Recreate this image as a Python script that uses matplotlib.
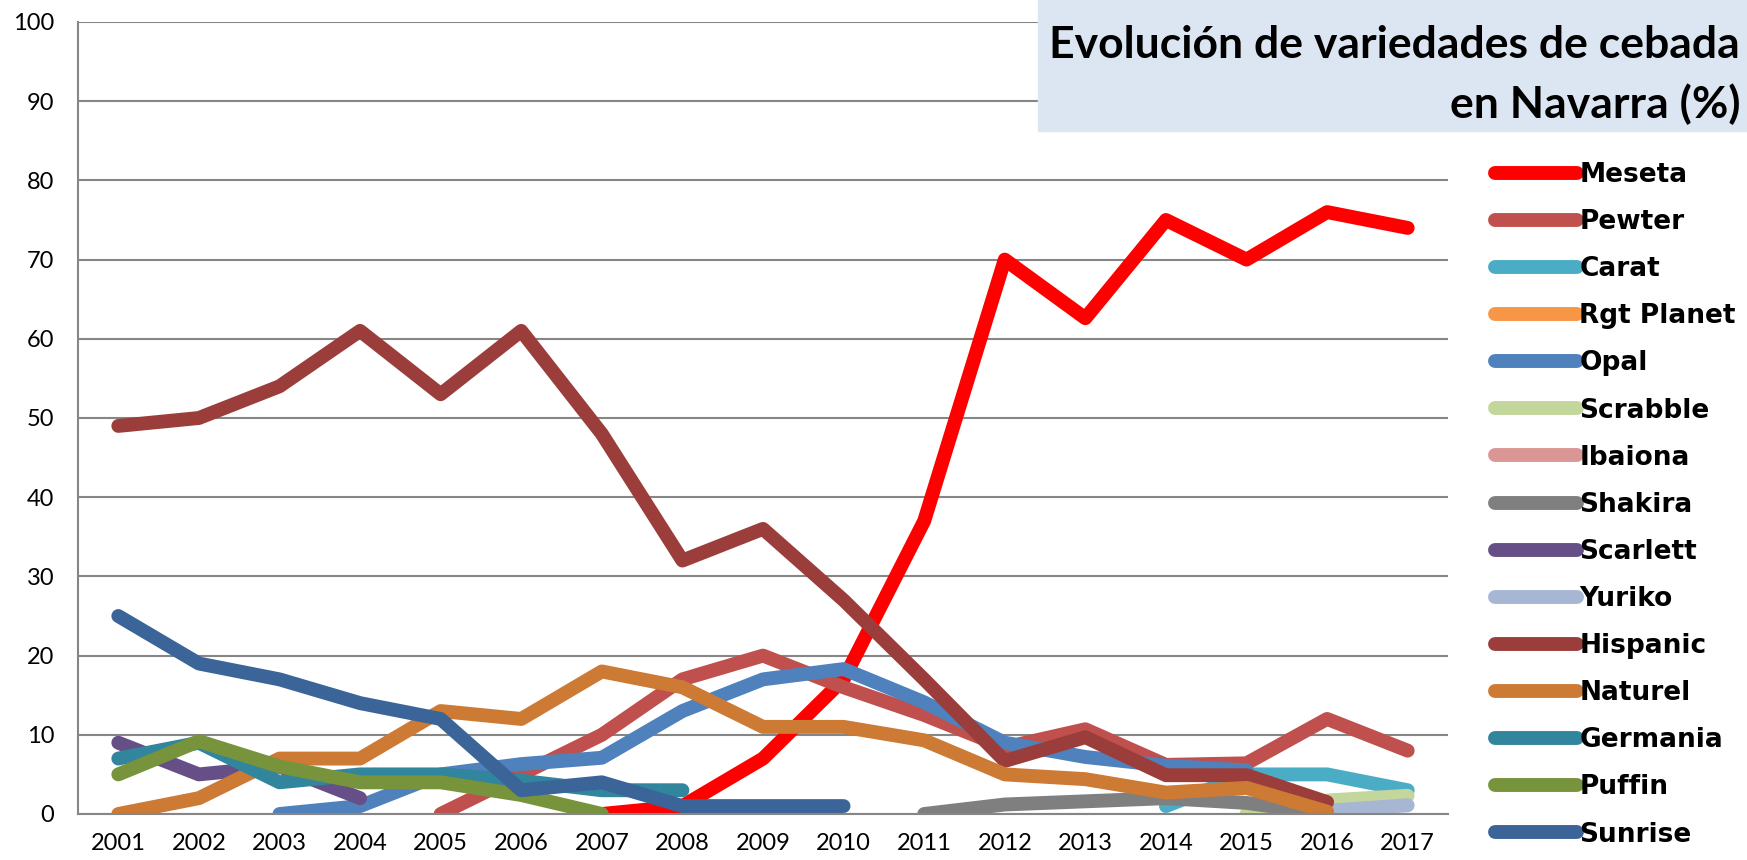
import numpy as np
import matplotlib
matplotlib.use("Agg")
import matplotlib.pyplot as plt
from matplotlib.patches import Rectangle

years = list(range(2001, 2018))

# valores (None = sin dato)
meseta = [None]*6 + [0, 1, 7, 17, 37, 70, 62.6, 75, 70, 76, 74]
pewter = [None]*4 + [0, 5, 10, 17, 20, 16, 12.5, 8.4, 10.7, 6.2, 6.4, 12, 8]
carat = [None]*13 + [1, 5, 5, 3]
rgt_planet = [None]*17
opal = [None]*2 + [0, 1, 5, 6.3, 7.1, 13, 17, 18.3, 14.1, 9, 7.2, 6.1, 5.5, None, None]
scrabble = [None]*14 + [0, 1.7, 2.3]
ibaiona = [None]*17
shakira = [None]*10 + [0, 1.2, 1.6, 2.0, 1.4, 0, None]
scarlett = [9, 5, 6, 2] + [None]*13
yuriko = [None]*15 + [0.4, 1.1]
hispanic = [49, 50, 54, 61, 53, 61, 48, 32, 36, 27, 17, 6.7, 9.7, 4.9, 4.9, 1.5, None]
naturel = [0, 2, 7, 7, 13, 12, 18, 16, 11, 11, 9.3, 5, 4.4, 2.7, 3.3, 0.3, None]
germania = [7, 9, 4, 5, 5, 4.2, 3, 3] + [None]*9
puffin = [5, 9.2, 6, 4, 4, 2.4, 0] + [None]*10
sunrise = [25, 19, 17, 14, 12, 3, 4, 1, 1, 1] + [None]*7

names = ["Meseta", "Pewter", "Carat", "Rgt Planet", "Opal", "Scrabble", "Ibaiona",
         "Shakira", "Scarlett", "Yuriko", "Hispanic", "Naturel", "Germania", "Puffin", "Sunrise"]
series = [meseta, pewter, carat, rgt_planet, opal, scrabble, ibaiona,
          shakira, scarlett, yuriko, hispanic, naturel, germania, puffin, sunrise]
colors = ["#ff0000", "#c0504d", "#4bacc6", "#f79646", "#4f81bd", "#c3d69b", "#d99694",
          "#7f7f7f", "#654f86", "#a6b6d3", "#9b3e3b", "#cd7a34", "#31859c", "#77933c", "#3b6598"]

fig = plt.figure(figsize=(17.47, 8.60), dpi=100)
ax = fig.add_axes([78/1747, 46/860, 1370/1747, 792/860])

for name, vals, c in zip(names, series, colors):
    y = np.array([np.nan if v is None else v for v in vals], dtype=float)
    ax.plot(years, y, color=c, lw=10, solid_capstyle='round', solid_joinstyle='round', label=name)

ax.set_xlim(2000.5, 2017.5)
ax.set_ylim(0, 100)
ax.set_yticks(range(0, 101, 10))
ax.set_xticks(years)
ax.grid(axis='y', color='#868686', lw=1.5)
ax.set_axisbelow(True)
for s in ['top', 'right']:
    ax.spines[s].set_visible(False)
for s in ['left', 'bottom']:
    ax.spines[s].set_color('#868686')
    ax.spines[s].set_linewidth(1.5)
ax.tick_params(axis='both', labelsize=17, labelfontfamily='Lato')
ax.tick_params(axis='y', length=0, pad=17)
ax.tick_params(axis='x', length=0, pad=14)

# cuadro del titulo
fig.patches.append(Rectangle((1038/1747, 1 - 131/860), 709/1747, 131/860,
                             transform=fig.transFigure, color='#dce6f2', zorder=0))
fig.text(1740/1747, 1 - 45/860, "Evolución de variedades de cebada", ha='right', va='center',
         fontfamily='Lato', fontweight='bold', fontsize=32)
fig.text(1740/1747, 1 - 104/860, "en Navarra (%)", ha='right', va='center',
         fontfamily='Lato', fontweight='bold', fontsize=32)

fig.legend(loc='upper left', bbox_to_anchor=(1495/1747, 1 - 162/860), frameon=False,
           prop={'family': 'DejaVu Sans', 'weight': 'bold', 'size': 19},
           handlelength=3.1, handletextpad=0.1, labelspacing=0.8, borderpad=0, borderaxespad=0)

fig.savefig("out.png", dpi=100)
